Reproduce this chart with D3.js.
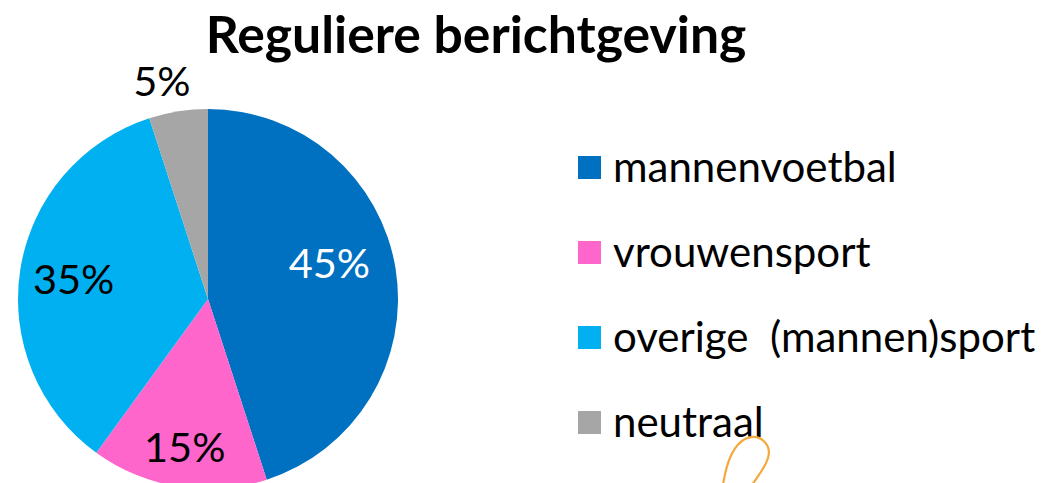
<!DOCTYPE html>
<html>
<head>
<meta charset="utf-8">
<script src="https://cdn.jsdelivr.net/npm/d3@7"></script>
<style>
  body { margin: 0; background: #fff; }
  svg { font-family: Lato, "Open Sans", sans-serif; display: block; }
</style>
</head>
<body>
<div id="chart"></div>
<script>
// data
var titleText = "Reguliere berichtgeving";
var categories = ["mannenvoetbal", "vrouwensport", "overige  (mannen)sport", "neutraal"];
var values = [45, 15, 35, 5];
var colors = ["#0070C0", "#FF66CC", "#00B0F0", "#A6A6A6"];
var labelColors = ["#fff", "#000", "#000", "#000"];

var width = 1045, height = 483;
var cx = 208, cy = 299, radius = 190;

var svg = d3.select("#chart").append("svg")
  .attr("width", width)
  .attr("height", height);

svg.append("text")
  .attr("x", 476)
  .attr("y", 53)
  .attr("text-anchor", "middle")
  .attr("font-size", 51.7)
  .attr("font-weight", "bold")
  .text(titleText);

var pie = d3.pie().sort(null).value(function(d) { return d; });
var arcs = pie(values);
var arc = d3.arc().innerRadius(0).outerRadius(radius);

var pieGroup = svg.append("g")
  .attr("transform", "translate(" + cx + "," + cy + ")");

pieGroup.selectAll("path.slice")
  .data(arcs)
  .enter().append("path")
  .attr("class", "slice")
  .attr("d", arc)
  .attr("fill", function(d, i) { return colors[i]; });

// label placement: distance from centre and small angle tweak (radians) per slice
var labelRadius = [127, 149, 136, 224];
var labelTweak = [-0.14, 0, 0, -0.05];
pieGroup.selectAll("text.lbl")
  .data(arcs)
  .enter().append("text")
  .attr("class", "lbl")
  .attr("text-anchor", "middle")
  .attr("dominant-baseline", "central")
  .attr("font-size", 41.5)
  .attr("fill", function(d, i) { return labelColors[i]; })
  .attr("x", function(d, i) {
    var a = (d.startAngle + d.endAngle) / 2 + labelTweak[i];
    return Math.sin(a) * labelRadius[i];
  })
  .attr("y", function(d, i) {
    var a = (d.startAngle + d.endAngle) / 2 + labelTweak[i];
    return -Math.cos(a) * labelRadius[i];
  })
  .text(function(d) { return d.data + "%"; });

// legend
var legendY = d3.scaleBand().domain(categories).range([140, 480]);
var legend = svg.append("g");
var item = legend.selectAll("g")
  .data(categories)
  .enter().append("g")
  .attr("transform", function(d) { return "translate(578," + legendY(d) + ")"; });
item.append("rect")
  .attr("x", 0).attr("y", 16)
  .attr("width", 23).attr("height", 23)
  .attr("fill", function(d, i) { return colors[i]; });
item.append("text")
  .attr("x", 35)
  .attr("y", 42)
  .attr("font-size", 42)
  .attr("fill", "#000")
  .style("white-space", "pre")
  .attr("xml:space", "preserve")
  .text(function(d) { return d; });

// orange pen scribble
svg.append("path")
  .attr("d", "M723,485 C726,465 732,446 745,439 C760,432 772,445 768,458 C765,468 758,476 752,485")
  .attr("fill", "none")
  .attr("stroke", "#F5A83C")
  .attr("stroke-width", 2.2)
  .attr("stroke-linecap", "round");
</script>
</body>
</html>
